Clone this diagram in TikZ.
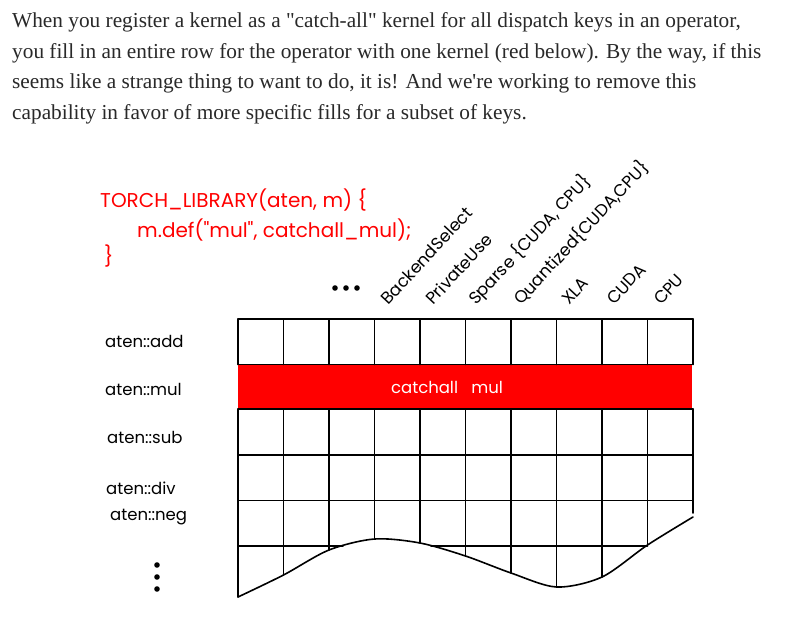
\documentclass[tikz,border=0pt]{standalone}
\usepackage{xcolor}
\usepackage{fontspec}
\setmainfont{Liberation Serif}
\newfontfamily\handfont{Poppins}
\usetikzlibrary{positioning}
\definecolor{IntroGray}{HTML}{292929}
\definecolor{CatchRed}{HTML}{FF0000}

\begin{document}
\begin{tikzpicture}[x=1pt, y=-1pt,
  intro/.style={anchor=base west, inner sep=0pt, font=\fontsize{21.3}{24}\selectfont, text=IntroGray},
  codeline/.style={anchor=base west, inner sep=0pt, font=\handfont\fontsize{20}{22}\selectfont, text=CatchRed},
  keylabel/.style={anchor=base west, inner sep=0pt, rotate=47, font=\handfont\fontsize{17}{18}\selectfont},
  oplabel/.style={anchor=base west, inner sep=0pt, font=\handfont\fontsize{16.5}{18}\selectfont},
  gridline/.style={line width=1.6pt, line cap=round},
  ]
  \useasboundingbox[fill=white] (0,0) rectangle (792,620);

  \node[intro] (intro1) at (12, 28) {When you register a kernel as a \textquotedbl catch-all\textquotedbl{} kernel for all dispatch keys in an operator,};
  \node[intro] (intro2) at (12, 58.5) {you fill in an entire row for the operator with one kernel (red below). By the way, if this};
  \node[intro] (intro3) at (12, 89) {seems like a strange thing to want to do, it is! And we\textquotesingle re working to remove this};
  \node[intro] (intro4) at (12, 119.5) {capability in favor of more specific fills for a subset of keys.};

  \node[codeline] (libdecl) at (100, 208) {TORCH\_LIBRARY(aten, m) \{};
  \node[codeline] (libdef) at (137, 238) {m.def("mul", catchall\_mul);};
  \node[codeline] (libclose) at (104, 264) {\}};

  \node[keylabel] (key-backend) at (388, 306) {BackendSelect};
  \node[keylabel] (key-private) at (433, 306) {PrivateUse};
  \node[keylabel] (key-sparse) at (476, 306) {Sparse \{CUDA, CPU\}};
  \node[keylabel] (key-quant) at (521, 306) {Quantized\{CUDA,CPU\}};
  \node[keylabel] (key-xla) at (569, 306) {XLA};
  \node[keylabel] (key-cuda) at (614, 306) {CUDA};
  \node[keylabel] (key-cpu) at (661, 306) {CPU};
  \foreach \x in {335, 346, 357}
    \fill (\x, 288) circle (2.8);

  \node[oplabel] (op-add) at (105, 347) {aten::add};
  \node[oplabel] (op-mul) at (105, 395) {aten::mul};
  \node[oplabel] (op-sub) at (107, 443) {aten::sub};
  \node[oplabel] (op-div) at (106, 494) {aten::div};
  \node[oplabel] (op-neg) at (110, 520) {aten::neg};
  \foreach \y in {565, 577, 589}
    \fill (157, \y) circle (2.8);

  \fill[CatchRed] (238, 364.5) rectangle (692, 409);
  \node[font=\handfont\fontsize{16.5}{18}\selectfont, text=white] (catchall) at (447, 387) {catchall\hspace{0.8em}mul};

  % columns stop where the torn edge passes
  \foreach \i/\b in {0/597, 1/575, 2/550, 3/539, 4/543, 5/556, 6/573, 7/587, 8/577, 9/545} {
    \draw[gridline] (238+45.5*\i, 319) -- (238+45.5*\i, 364.5);
    \draw[gridline] (238+45.5*\i, 409) -- (238+45.5*\i, \b);
  }
  \foreach \y in {319, 364.5, 409, 455, 500.5}
    \draw[gridline] (238, \y) -- (693, \y);
  \draw[gridline] (238, 546) -- (343, 546);
  \draw[gridline] (431, 546) -- (647.5, 546);
  \draw[gridline] (693, 319) -- (693, 364.5);
  \draw[gridline] (693, 409) -- (693, 513);
  \draw[gridline] plot[smooth] coordinates {(693,517) (647.5,545) (602,577) (556.5,587) (511,573) (465.5,556) (420,543) (374.5,539) (329,550) (283.5,575) (238,597)};
\end{tikzpicture}
\end{document}
